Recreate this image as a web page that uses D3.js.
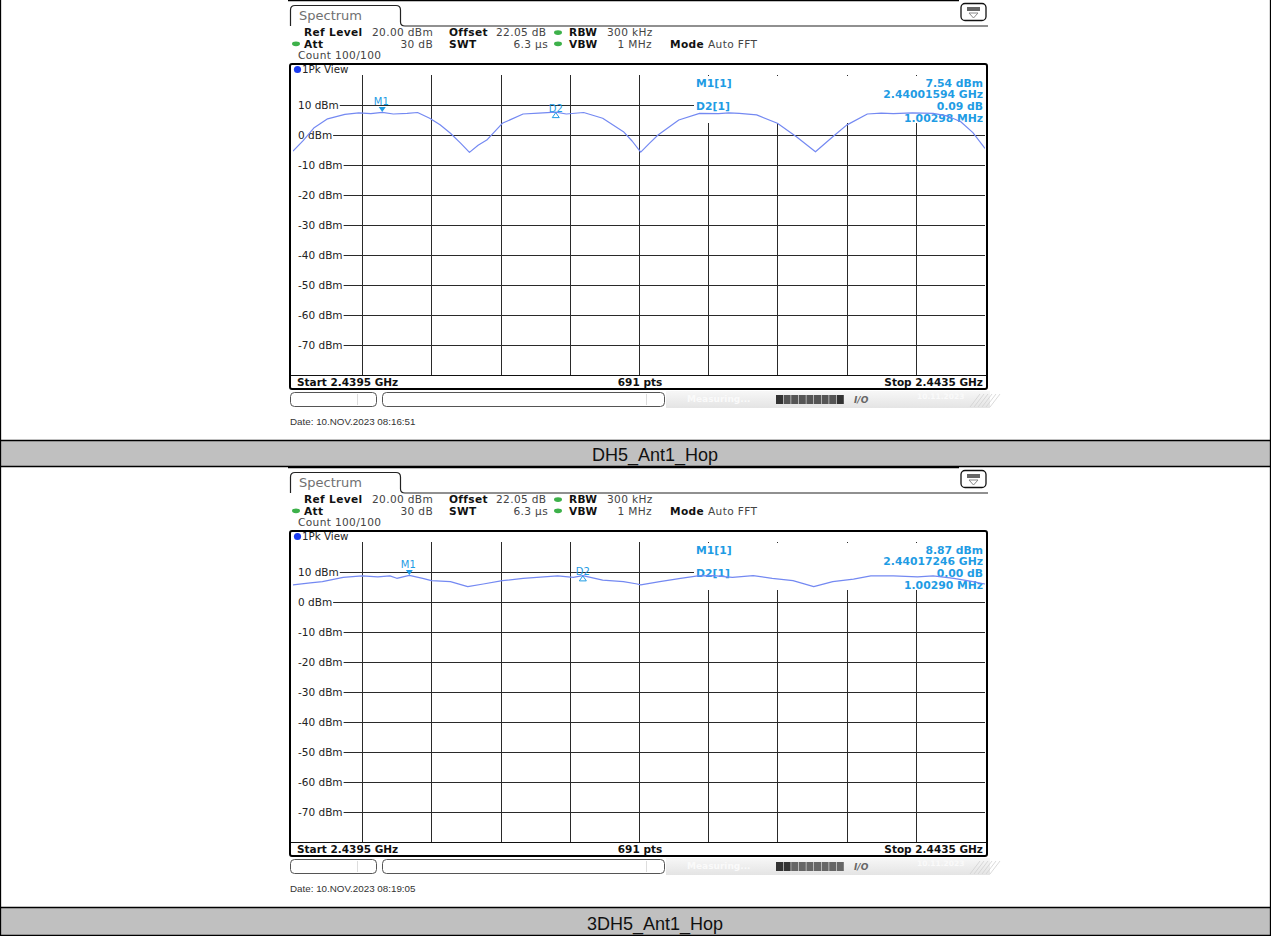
<!DOCTYPE html>
<html><head><meta charset="utf-8">
<script src="https://cdn.jsdelivr.net/npm/d3@7"></script>
<style>body{margin:0;background:#fff}svg{display:block}</style>
</head><body><svg id="c" width="1271" height="936"></svg>
<script>
// ---------- data ----------
const startGHz = 2.4395, stopGHz = 2.4435;
const refTopDbm = 20, refBottomDbm = -80;
const levelTicks = [10, 0, -10, -20, -30, -40, -50, -60, -70];
const levelTickLabels = ["10 dBm", "0 dBm", "-10 dBm", "-20 dBm", "-30 dBm", "-40 dBm", "-50 dBm", "-60 dBm", "-70 dBm"];
const freqGridGHz = [2.4399, 2.4403, 2.4407, 2.4411, 2.4415, 2.4419, 2.4423, 2.4427, 2.4431];
const captions = ["DH5_Ant1_Hop", "3DH5_Ant1_Hop"];
const dates = ["Date: 10.NOV.2023  08:16:51", "Date: 10.NOV.2023  08:19:05"];

// trace 1 (DH5): offset from start in MHz, level in dBm
const trace1OffsetMHz = [0.00, 0.06, 0.12, 0.20, 0.30, 0.38, 0.45, 0.516, 0.58, 0.66, 0.72, 0.79, 0.85, 0.91, 0.97, 1.02, 1.07, 1.12, 1.21, 1.33, 1.42, 1.519, 1.58, 1.68, 1.79, 1.91, 1.96, 2.01, 2.06, 2.11, 2.23, 2.35, 2.46, 2.52, 2.58, 2.68, 2.80, 2.91, 3.02, 3.12, 3.20, 3.32, 3.40, 3.47, 3.58, 3.70, 3.78, 3.86, 3.93, 4.00];
const trace1Dbm =       [-5.4, -1.8, 2.3, 5.4, 6.9, 7.4, 7.1, 7.54, 7.0, 7.2, 7.5, 5.6, 3.4, 0.6, -2.8, -5.8, -3.4, -1.7, 3.9, 7.0, 7.3, 7.63, 7.0, 7.5, 5.6, 1.1, -2.0, -5.7, -2.8, 0.0, 5.0, 7.2, 7.1, 7.4, 7.2, 6.7, 3.9, -0.6, -5.6, -0.6, 3.3, 7.0, 7.3, 7.1, 7.4, 7.2, 6.4, 4.4, 0.8, -4.5];

// trace 2 (3DH5)
const trace2OffsetMHz = [0.00, 0.10, 0.17, 0.29, 0.40, 0.49, 0.56, 0.60, 0.672, 0.75, 0.80, 0.91, 1.01, 1.10, 1.21, 1.33, 1.45, 1.53, 1.62, 1.675, 1.79, 1.91, 1.99, 2.01, 2.12, 2.24, 2.34, 2.43, 2.54, 2.66, 2.77, 2.89, 3.01, 3.12, 3.24, 3.34, 3.47, 3.61, 3.70, 3.82, 3.93, 4.00];
const trace2Dbm =       [5.7, 6.4, 6.8, 8.2, 8.7, 8.4, 8.7, 7.9, 8.87, 7.9, 7.1, 6.8, 5.1, 6.0, 7.1, 7.9, 8.4, 8.7, 8.2, 8.8, 7.3, 6.8, 6.0, 5.7, 6.8, 7.9, 8.7, 8.8, 8.2, 8.8, 7.9, 7.1, 5.1, 6.8, 7.6, 8.7, 8.7, 8.4, 8.7, 7.9, 6.8, 6.0];

const m1FreqGHz = [2.44001594, 2.44017246];
const m1LevelDbm = [7.54, 8.87];
const d2DeltaMHz = [1.00298, 1.00290];
const d2DeltaDb = [0.09, 0.00];
const statusDateText = ["10.11.2023", "10.11.2023"];

// ---------- drawing ----------
const svg = d3.select("#c");
const FONT = "'DejaVu Sans', Verdana, sans-serif";
const ARIAL = "'Liberation Sans', Arial, sans-serif";
const BLUE = "#1f9ce4";
const TRACE = "#7489f2";

// outer table
svg.append("rect").attr("x", 0).attr("y", 441).attr("width", 1271).attr("height", 25).attr("fill", "#c0c0c0");
svg.append("rect").attr("x", 0).attr("y", 908).attr("width", 1271).attr("height", 27).attr("fill", "#c0c0c0");

const defs = svg.append("defs");
const grad = defs.append("linearGradient").attr("id", "sb").attr("x1", 0).attr("x2", 0).attr("y1", 0).attr("y2", 1);
grad.append("stop").attr("offset", "0").attr("stop-color", "#f7f7f7");
grad.append("stop").attr("offset", "1").attr("stop-color", "#e4e4e4");

function panel(idx, y0, offs, dbm) {
  const g = svg.append("g").attr("transform", `translate(0,${y0})`);
  const x = d3.scaleLinear().domain([startGHz, stopGHz]).range([293, 985]);
  const y = d3.scaleLinear().domain([refBottomDbm, refTopDbm]).range([375, 75]);

  // top dark edge
  g.append("line").attr("x1", 288).attr("x2", 959).attr("y1", 0.5).attr("y2", 0.5).attr("stroke", "#000").attr("stroke-width", 1.5);

  // tab
  g.append("path").attr("d", "M290.5,26 L290.5,10 Q290.5,5.5 295,5.5 L396,5.5 Q400.5,5.5 400.5,10 L400.5,22 Q400.5,26 405,26 L988,26")
    .attr("fill", "none").attr("stroke", "#222").attr("stroke-width", 1.2);
  g.append("text").attr("x", 299).attr("y", 19.5).attr("font-family", FONT).attr("font-size", 13)
    .attr("fill", "#707070").text("Spectrum");

  // icon
  g.append("rect").attr("x", 961).attr("y", 3.5).attr("width", 25).attr("height", 17).attr("rx", 4)
    .attr("fill", "#fff").attr("stroke", "#111").attr("stroke-width", 1.3);
  g.append("rect").attr("x", 967).attr("y", 7).attr("width", 13).attr("height", 4).attr("fill", "#666");
  g.append("path").attr("d", "M969,13 L978,13 L973.5,18 Z").attr("fill", "none").attr("stroke", "#888").attr("stroke-width", 1);

  // header
  const hdr = g.append("g").attr("font-family", FONT).attr("font-size", 10.6).attr("letter-spacing", 0.35);
  const t = (xx, yy, s, opt = {}) => hdr.append("text").attr("x", xx).attr("y", yy)
    .attr("font-weight", opt.b ? "bold" : "normal").attr("fill", opt.b ? "#111" : "#444")
    .attr("text-anchor", opt.e ? "end" : "start").text(s);
  const dot = (xx, yy) => hdr.append("ellipse").attr("cx", xx).attr("cy", yy).attr("rx", 4).attr("ry", 2.4).attr("fill", "#3db14a");
  const r1 = 36.3, r2 = 47.5, r3 = 59;
  t(304, r1, "Ref Level", {b: 1}); t(372, r1, "20.00 dBm");
  t(449, r1, "Offset", {b: 1}); t(496, r1, "22.05 dB");
  dot(558, 32.6); t(569, r1, "RBW", {b: 1}); t(607, r1, "300 kHz");
  dot(296, 43.8); t(304, r2, "Att", {b: 1}); t(433, r2, "30 dB", {e: 1});
  t(449, r2, "SWT", {b: 1}); t(548, r2, "6.3 µs", {e: 1});
  dot(558, 43.8); t(569, r2, "VBW", {b: 1}); t(652, r2, "1 MHz", {e: 1});
  t(670, r2, "Mode", {b: 1}); t(708, r2, "Auto FFT");
  t(298, r3, "Count 100/100");

  // view bar
  g.append("circle").attr("cx", 297.5).attr("cy", 69.5).attr("r", 3.6).attr("fill", "#1b3cf0");
  g.append("text").attr("x", 302).attr("y", 73.3).attr("font-family", FONT).attr("font-size", 10.3)
    .attr("fill", "#222").text("1Pk View");

  // grid
  const grid = g.append("g").attr("stroke", "#2a2a2a").attr("stroke-width", 1);
  levelTicks.forEach(v => grid.append("line").attr("x1", 293).attr("x2", 985)
    .attr("y1", Math.round(y(v)) + 0.5).attr("y2", Math.round(y(v)) + 0.5));
  freqGridGHz.forEach(f => grid.append("line").attr("x1", Math.round(x(f)) + 0.5).attr("x2", Math.round(x(f)) + 0.5)
    .attr("y1", 75).attr("y2", 375));

  // level labels with white background
  const lab = g.append("g").attr("font-family", FONT).attr("font-size", 10.5).attr("fill", "#222");
  levelTicks.forEach((v, i) => {
    const tx = lab.append("text").attr("x", 298).attr("y", Math.round(y(v)) + 4).text(levelTickLabels[i]);
    const w = tx.node().getComputedTextLength();
    lab.insert("rect", "text").attr("x", 293).attr("y", Math.round(y(v)) - 5).attr("width", w + 6).attr("height", 10).attr("fill", "#fff");
  });

  // marker info box
  g.append("rect").attr("x", 694).attr("y", 76).attr("width", 291).attr("height", 47).attr("fill", "#fff");
  const d2Freq = m1FreqGHz[idx] + d2DeltaMHz[idx] / 1000;
  const mi = g.append("g").attr("font-family", FONT).attr("font-size", 10.8).attr("font-weight", "bold").attr("fill", BLUE);
  mi.append("text").attr("x", 696).attr("y", 87).text("M1[1]");
  mi.append("text").attr("x", 983).attr("y", 87).attr("text-anchor", "end").text(m1LevelDbm[idx].toFixed(2) + " dBm");
  mi.append("text").attr("x", 983).attr("y", 98.3).attr("text-anchor", "end").text(m1FreqGHz[idx].toFixed(8) + " GHz");
  mi.append("text").attr("x", 696).attr("y", 109.6).text("D2[1]");
  mi.append("text").attr("x", 983).attr("y", 109.6).attr("text-anchor", "end").text(d2DeltaDb[idx].toFixed(2) + " dB");
  mi.append("text").attr("x", 983).attr("y", 121.5).attr("text-anchor", "end").text(d2DeltaMHz[idx].toFixed(5) + " MHz");

  // trace
  defs.append("clipPath").attr("id", "clp" + idx).append("rect").attr("x", 293).attr("y", 75).attr("width", 692).attr("height", 300);
  const pts = offs.map((o, i) => [startGHz + o / 1000, dbm[i]]);
  g.append("path").attr("clip-path", `url(#clp${idx})`)
    .attr("d", d3.line().x(d => x(d[0])).y(d => y(d[1]))(pts))
    .attr("fill", "none").attr("stroke", TRACE).attr("stroke-width", 1.2).attr("stroke-linejoin", "round");

  // markers
  const mx = x(m1FreqGHz[idx]), my = y(m1LevelDbm[idx]);
  g.append("path").attr("d", `M${mx - 3.5},${my - 5.5} L${mx + 3.5},${my - 5.5} L${mx},${my - 0.5} Z`).attr("fill", BLUE);
  g.append("text").attr("x", mx - 1).attr("y", my - 7).attr("text-anchor", "middle").attr("font-family", FONT)
    .attr("font-size", 10).attr("fill", BLUE).text("M1");
  const dx = x(d2Freq), dy = y(m1LevelDbm[idx] + d2DeltaDb[idx]);
  g.append("path").attr("d", `M${dx - 3.5},${dy + 5.5} L${dx + 3.5},${dy + 5.5} L${dx},${dy + 0.5} Z`)
    .attr("fill", "none").attr("stroke", BLUE).attr("stroke-width", 1);
  g.append("text").attr("x", dx).attr("y", dy - 0.5).attr("text-anchor", "middle").attr("font-family", FONT)
    .attr("font-size", 10).attr("fill", BLUE).text("D2");

  // bottom label row
  g.append("line").attr("x1", 290).attr("x2", 987).attr("y1", 375.5).attr("y2", 375.5).attr("stroke", "#111");
  const bl = g.append("g").attr("font-family", FONT).attr("font-size", 10.5).attr("font-weight", "bold").attr("fill", "#111");
  bl.append("text").attr("x", 297).attr("y", 386.3).text("Start " + startGHz + " GHz");
  bl.append("text").attr("x", 640).attr("y", 386.3).attr("text-anchor", "middle").text("691 pts");
  bl.append("text").attr("x", 983).attr("y", 386.3).attr("text-anchor", "end").text("Stop " + stopGHz + " GHz");

  // frame
  g.append("rect").attr("x", 290).attr("y", 64).attr("width", 697).attr("height", 325).attr("rx", 2)
    .attr("fill", "none").attr("stroke", "#000").attr("stroke-width", 2);

  // status bar
  g.append("rect").attr("x", 666).attr("y", 391).attr("width", 324).attr("height", 17).attr("fill", "url(#sb)");
  g.append("rect").attr("x", 290.5).attr("y", 392.5).attr("width", 86).attr("height", 14).attr("rx", 4).attr("fill", "#fff").attr("stroke", "#555");
  g.append("line").attr("x1", 357.5).attr("x2", 357.5).attr("y1", 394).attr("y2", 405).attr("stroke", "#ddd");
  g.append("rect").attr("x", 382.5).attr("y", 392.5).attr("width", 282).attr("height", 14).attr("rx", 4).attr("fill", "#fff").attr("stroke", "#555");
  g.append("line").attr("x1", 646.5).attr("x2", 646.5).attr("y1", 394).attr("y2", 405).attr("stroke", "#ddd");
  g.append("text").attr("x", 687).attr("y", 402).attr("font-family", FONT).attr("font-size", 9).attr("font-weight", "bold")
    .attr("fill", "#fafafa").text("Measuring...");
  const segs = d3.range(9);
  g.selectAll(null).data(segs).enter().append("rect")
    .attr("x", i => 776 + i * 7.6).attr("y", 395).attr("width", 7).attr("height", 9)
    .attr("fill", i => (idx === 0 ? (i === 0 || i === 8 ? "#333" : "#555") : (i < 2 ? "#333" : "#666")));
  g.append("text").attr("x", 854).attr("y", 403).attr("font-family", FONT).attr("font-size", 9).attr("font-weight", "bold")
    .attr("font-style", "italic").attr("fill", "#666").text("I/O");
  g.append("text").attr("x", 917).attr("y", 399).attr("font-family", FONT).attr("font-size", 7.5).attr("font-weight", "bold")
    .attr("fill", "#fafafa").text(statusDateText[idx]);
  for (let k = 0; k < 6; k++) {
    g.append("line").attr("x1", 970 + k * 4).attr("x2", 980 + k * 4).attr("y1", 407).attr("y2", 394)
      .attr("stroke", "#d0d0d0").attr("stroke-width", 0.8);
  }

  // date
  g.append("text").attr("x", 290).attr("y", 425).attr("font-family", ARIAL).attr("font-size", 9.8)
    .attr("fill", "#333").text(dates[idx]);
}

panel(0, 0, trace1OffsetMHz, trace1Dbm);
panel(1, 467, trace2OffsetMHz, trace2Dbm);

// captions
svg.append("text").attr("x", 655).attr("y", 461).attr("text-anchor", "middle").attr("font-family", ARIAL)
  .attr("font-size", 18).attr("fill", "#111").text(captions[0]);
svg.append("text").attr("x", 655).attr("y", 930).attr("text-anchor", "middle").attr("font-family", ARIAL)
  .attr("font-size", 18).attr("fill", "#111").text(captions[1]);

// table lines
const tl = svg.append("g").attr("stroke", "#000").attr("stroke-width", 1.3);
tl.append("line").attr("x1", 0.5).attr("x2", 0.5).attr("y1", 0).attr("y2", 936);
tl.append("line").attr("x1", 1270.5).attr("x2", 1270.5).attr("y1", 0).attr("y2", 936);
[440.5, 466.5, 907.5, 935.5].forEach(v => tl.append("line").attr("x1", 0).attr("x2", 1271).attr("y1", v).attr("y2", v));
</script></body></html>
